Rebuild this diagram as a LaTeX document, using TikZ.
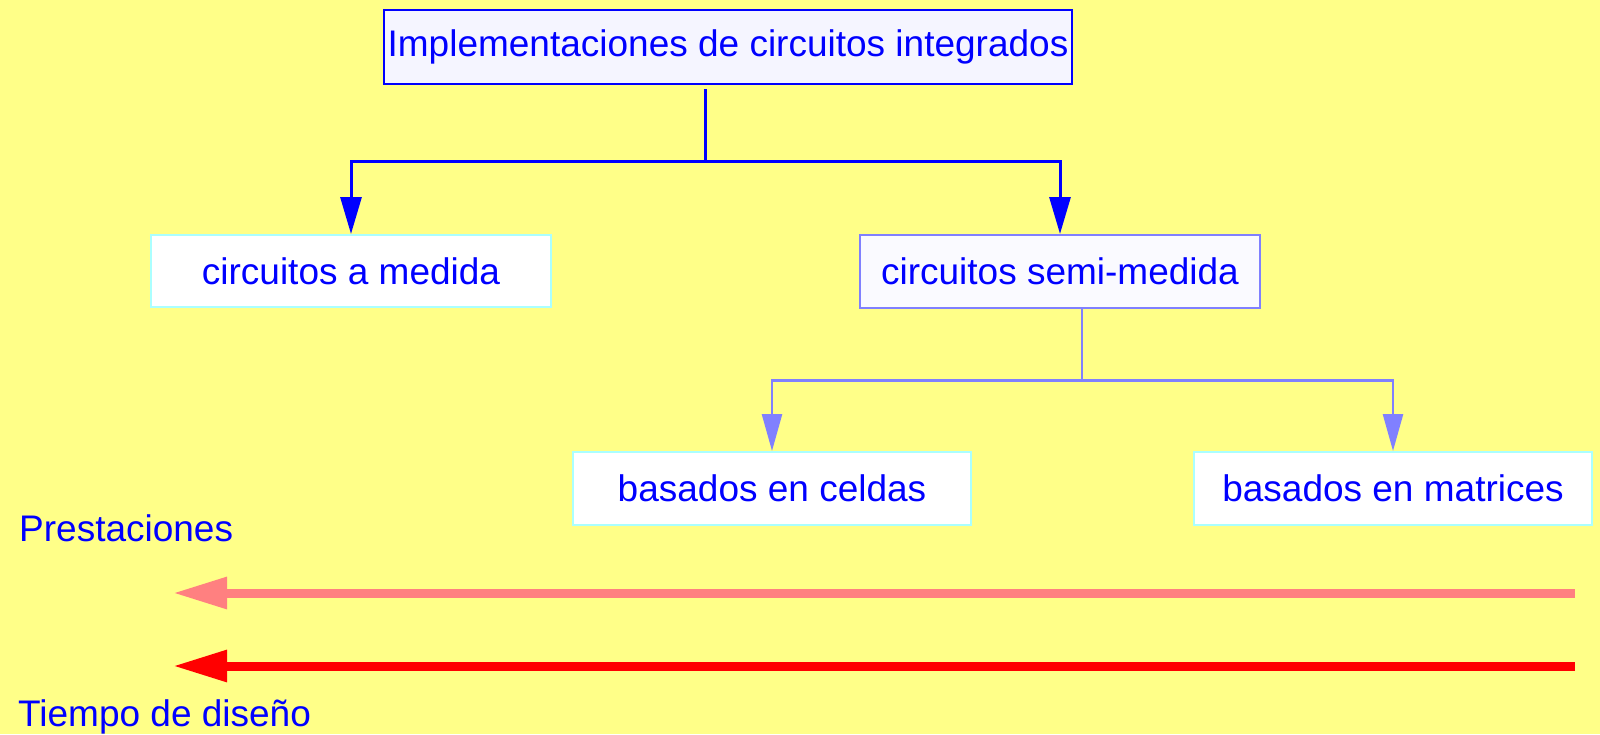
\documentclass[tikz,border=0pt]{standalone}
\usepackage{fontspec}
\setmainfont{Liberation Sans}
\usetikzlibrary{arrows.meta,calc}
\definecolor{bgyellow}{HTML}{FFFF88}
\definecolor{lblue}{HTML}{8080FF}
\definecolor{lcyan}{HTML}{AAFFFF}
\definecolor{pinkarrow}{HTML}{FF8080}
\definecolor{topfill}{HTML}{F5F5FF}
\definecolor{semifill}{HTML}{FAFAFF}
\tikzset{
  box/.style={draw, line width=2pt, inner sep=0pt, align=center, text=blue,
    font=\fontsize{37}{44}\selectfont},
  topbox/.style={box, draw=blue, fill=topfill, minimum width=688pt, minimum height=74pt},
  cyanbox/.style={box, draw=lcyan, fill=white, minimum width=398pt, minimum height=72pt},
  semibox/.style={box, draw=lblue, fill=semifill, minimum width=400pt, minimum height=73pt},
  bluecon/.style={draw=blue, line width=3pt, -{Triangle[length=37pt,width=21pt]}},
  lbluecon/.style={draw=lblue, line width=2.5pt, -{Triangle[length=37pt,width=20pt]}},
  plain/.style={text=blue, inner sep=0pt, font=\fontsize{37}{44}\selectfont},
  bigarrow/.style={line width=9pt, -{Triangle[length=54pt,width=30pt]}},
}
\begin{document}
\begin{tikzpicture}[x=1pt,y=-1pt]
\fill[bgyellow] (0,0) rectangle (1600,734);
\useasboundingbox (0,0) rectangle (1600,734);

\node[topbox] (top) at (728,47) {Implementaciones de circuitos integrados};
\node[cyanbox, minimum width=400pt] (med) at (351,271) {circuitos a medida};
\node[semibox] (semi) at (1060,271.5) {circuitos semi-medida};
\node[cyanbox, minimum height=73pt] (celdas) at (772,488.5) {basados en celdas};
\node[cyanbox, minimum height=73pt] (matrices) at (1393,488.5) {basados en matrices};

\coordinate (j1) at (705,161);
\draw[blue, line width=3pt] ($(j1 |- top.south)+(0,4)$) -- (j1);
\draw[bluecon] (j1) -| (med.north);
\draw[bluecon] (j1) -| (semi.north);

\coordinate (j2) at (1082,380.5);
\draw[lblue, line width=2.5pt] (j2 |- semi.south) -- (j2);
\draw[lbluecon] (j2) -| (celdas.north);
\draw[lbluecon] (j2) -| (matrices.north);

\node[plain, anchor=base west] (prest) at (19,541.7) {Prestaciones};
\node[plain, anchor=base west] (tiempo) at (18,726.7) {Tiempo de diseño};

\coordinate (p1) at (1575,593);
\coordinate (p2) at (173,593);
\coordinate (r1) at (1575,666);
\coordinate (r2) at (173,666);
\draw[bigarrow, pinkarrow] (p1) -- (p2);
\draw[bigarrow, red] (r1) -- (r2);
\end{tikzpicture}
\end{document}
